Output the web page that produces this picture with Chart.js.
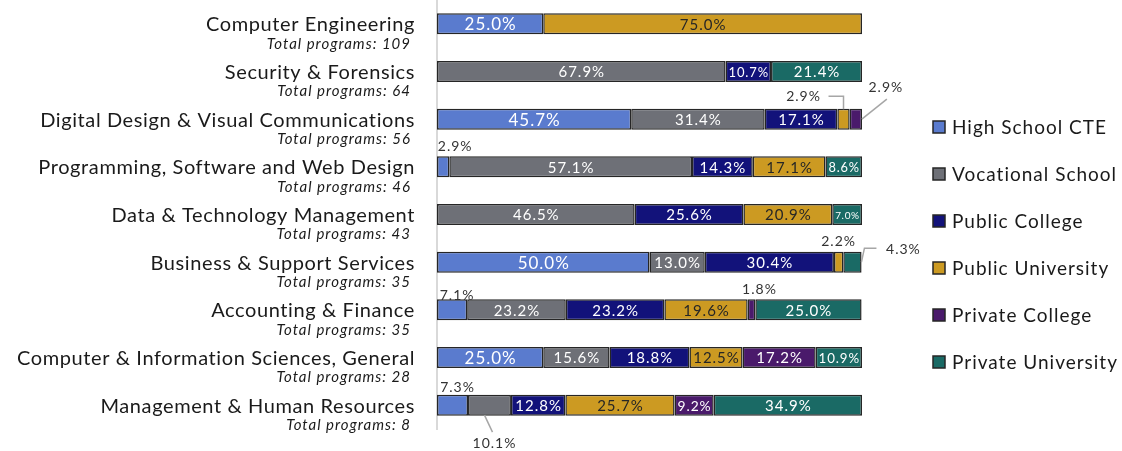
<!DOCTYPE html>
<html>
<head>
<meta charset="utf-8">
<script src="https://cdn.jsdelivr.net/npm/chart.js@4"></script>
<style>
  html, body { margin: 0; padding: 0; background: #fff; }
  #wrap { width: 1122px; height: 451px; position: relative; }
</style>
</head>
<body>
<div id="wrap"><canvas id="chart"></canvas></div>
<script>
// Share of programs by provider type, per program area (percent)
const programs = [
  "Computer Engineering",
  "Security & Forensics",
  "Digital Design & Visual Communications",
  "Programming, Software and Web Design",
  "Data & Technology Management",
  "Business & Support Services",
  "Accounting & Finance",
  "Computer & Information Sciences, General",
  "Management & Human Resources"
];
const totals = [109, 64, 56, 46, 43, 35, 35, 28, 8];

const seriesNames = ["High School CTE", "Vocational School", "Public College",
  "Public University", "Private College", "Private University"];

const highSchoolCTE     = [25.0, 0,    45.7, 2.9,  0,    50.0, 7.1,  25.0, 7.3];
const vocationalSchool  = [0,    67.9, 31.4, 57.1, 46.5, 13.0, 23.2, 15.6, 10.1];
const publicCollege     = [0,    10.7, 17.1, 14.3, 25.6, 30.4, 23.2, 18.8, 12.8];
const publicUniversity  = [75.0, 0,    2.9,  17.1, 20.9, 2.2,  19.6, 12.5, 25.7];
const privateCollege    = [0,    0,    2.9,  0,    0,    0,    1.8,  17.2, 9.2];
const privateUniversity = [0,    21.4, 0,    8.6,  7.0,  4.3,  25.0, 10.9, 34.9];

const seriesValues = [highSchoolCTE, vocationalSchool, publicCollege,
  publicUniversity, privateCollege, privateUniversity];
const seriesColors = ["#5a7bce", "#6e7077", "#12127a", "#cc9a22", "#4a1a6b", "#1a6a65"];

// Small segments get their label outside the bar, with an optional leader line.
// Offsets are relative to the segment centre.
const callouts = [
  { row: 2, series: 3, dx: -40, dy: -23, leader: [[-15, -23], [0, -23], [0, -10]] },
  { row: 2, series: 4, dx: 30, dy: -32, leader: [[31, -20], [6, 0]] },
  { row: 3, series: 0, dx: 12, dy: -20 },
  { row: 5, series: 3, dx: 0, dy: -21 },
  { row: 5, series: 5, dx: 51, dy: -13, leader: [[24, -14], [12, -14], [9, 0]] },
  { row: 6, series: 0, dx: 5, dy: -14 },
  { row: 6, series: 4, dx: 8, dy: -20 },
  { row: 8, series: 0, dx: 5, dy: -18 },
  { row: 8, series: 1, dx: 5, dy: 38, leader: [[-5, 10], [3, 27]] }
];

const FONT = "Lato, 'DejaVu Sans', sans-serif";

const rowLabels = {
  id: "rowLabels",
  afterDraw(chart) {
    const ctx = chart.ctx, y = chart.scales.y, left = chart.chartArea.left;
    ctx.save();
    ctx.textAlign = "right";
    ctx.textBaseline = "middle";
    ctx.fillStyle = "#1a1a1a";
    programs.forEach((name, i) => {
      const py = y.getPixelForValue(i);
      ctx.font = "20px " + FONT;
      ctx.letterSpacing = "0.6px";
      ctx.fillText(name, left - 22, py + 1);
      ctx.font = "italic 15px " + FONT;
      ctx.letterSpacing = "1px";
      ctx.fillText("Total programs: " + totals[i], left - 26, py + 20);
    });
    ctx.restore();
  }
};

const segmentLabels = {
  id: "segmentLabels",
  afterDatasetsDraw(chart) {
    const ctx = chart.ctx;
    ctx.save();
    ctx.textAlign = "center";
    ctx.textBaseline = "middle";
    chart.data.datasets.forEach((ds, di) => {
      chart.getDatasetMeta(di).data.forEach((bar, i) => {
        const v = ds.data[i];
        if (!v) return;
        const p = bar.getProps(["x", "y", "base"], true);
        const l = Math.min(p.x, p.base), r = Math.max(p.x, p.base);
        const cx = (l + r) / 2, cy = p.y;
        const text = v.toFixed(1) + "%";
        const co = callouts.find(c => c.row === i && c.series === di);
        if (co) {
          if (co.leader) {
            ctx.strokeStyle = "#a6a6a6";
            ctx.lineWidth = 1.5;
            ctx.beginPath();
            co.leader.forEach(([lx, ly], k) => {
              if (k === 0) ctx.moveTo(cx + lx, cy + ly);
              else ctx.lineTo(cx + lx, cy + ly);
            });
            ctx.stroke();
          }
          ctx.font = "14px " + FONT;
          ctx.letterSpacing = "1px";
          ctx.fillStyle = "#333";
          ctx.fillText(text, cx + co.dx, cy + co.dy);
          return;
        }
        let size = di === 0 ? 17 : 15;
        let spacing = 1;
        ctx.font = size + "px " + FONT;
        ctx.letterSpacing = spacing + "px";
        const w = ctx.measureText(text).width;
        const room = r - l - 5;
        if (w > room) {
          size = size * room / w;
          spacing = spacing * room / w;
          ctx.font = size.toFixed(1) + "px " + FONT;
          ctx.letterSpacing = spacing.toFixed(2) + "px";
        }
        ctx.fillStyle = di === 3 ? "#262626" : "#ffffff";
        ctx.fillText(text, cx + spacing / 2, cy + 1);
      });
    });
    ctx.restore();
  }
};

const sideLegend = {
  id: "sideLegend",
  afterDraw(chart) {
    const ctx = chart.ctx, area = chart.chartArea;
    const x = area.right + 71;
    ctx.save();
    ctx.textAlign = "left";
    ctx.textBaseline = "middle";
    ctx.font = "19px " + FONT;
    ctx.letterSpacing = "1px";
    chart.data.datasets.forEach((ds, i) => {
      const cy = area.top + 127 + i * 47;
      ctx.fillStyle = ds.backgroundColor;
      ctx.fillRect(x, cy - 6, 12, 12);
      ctx.strokeStyle = "#262626";
      ctx.lineWidth = 1.5;
      ctx.strokeRect(x, cy - 6, 12, 12);
      ctx.fillStyle = "#1a1a1a";
      ctx.fillText(ds.label, x + 19, cy + 1);
    });
    ctx.restore();
  }
};

new Chart(document.getElementById("chart"), {
  type: "bar",
  data: {
    labels: programs,
    datasets: seriesNames.map((name, k) => ({
      label: name,
      data: seriesValues[k].map(v => v || null),
      backgroundColor: seriesColors[k],
      borderColor: "#262626",
      borderWidth: 1.5,
      borderSkipped: false,
      barPercentage: 0.44,
      categoryPercentage: 1
    }))
  },
  options: {
    indexAxis: "y",
    responsive: true,
    maintainAspectRatio: false,
    animation: false,
    layout: { padding: { top: 0, right: 260, bottom: 22, left: 0 } },
    plugins: { legend: { display: false }, tooltip: { enabled: false } },
    scales: {
      x: { stacked: true, min: 0, max: 100, display: false },
      y: {
        stacked: true,
        ticks: { display: false },
        grid: { display: false, drawTicks: false },
        border: { display: true, color: "#d9d9d9", width: 2 },
        afterFit(scale) { scale.width = 437; }
      }
    }
  },
  plugins: [rowLabels, segmentLabels, sideLegend]
});
</script>
</body>
</html>
